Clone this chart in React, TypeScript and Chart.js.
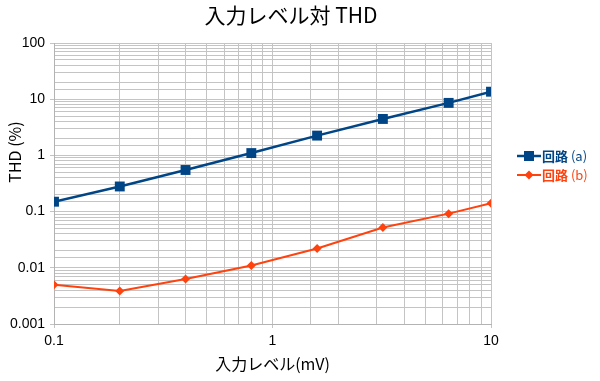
import React, { useEffect, useRef } from "react";
import { Chart, registerables } from "chart.js";

Chart.register(...registerables);

const inputLevels = [0.1, 0.2, 0.4, 0.8, 1.6, 3.2, 6.4, 10];
const circuitA = [0.15, 0.28, 0.55, 1.1, 2.25, 4.45, 8.6, 13.6];
const circuitB = [0.005, 0.00385, 0.0063, 0.011, 0.022, 0.052, 0.092, 0.141];
const seriesLabels = ["回路 (a)", "回路 (b)"];
const xTickLabels = ["0.1", "1", "10"];
const yTickLabels = ["0.001", "0.01", "0.1", "1", "10", "100"];
const chartTitle = "入力レベル対 THD";
const xTitle = "入力レベル(mV)";
const yTitle = "THD (%)";

const BLUE = "#004586";
const ORANGE = "#ff420e";
const CJK = '"Noto Sans CJK JP", "Liberation Sans", sans-serif';
const LAT = '"Liberation Sans", "Noto Sans CJK JP", sans-serif';

function isPow10(v: number) {
  const l = Math.log10(v);
  return Math.abs(l - Math.round(l)) < 1e-6;
}

function powLabel(v: number, labels: string[]) {
  if (!isPow10(v)) return "";
  const found = labels.find((s) => Math.abs(parseFloat(s) - v) < v * 1e-6);
  return found ?? "";
}

const textPlugin = {
  id: "texts",
  afterDraw(chart: any) {
    const ctx = chart.ctx;
    const ca = chart.chartArea;
    ctx.save();
    ctx.fillStyle = "#000";
    ctx.textAlign = "center";
    ctx.textBaseline = "middle";
    ctx.font = `21px ${CJK}`;
    ctx.fillText(chartTitle, 291, 15);
    ctx.font = `16px ${CJK}`;
    ctx.fillText(xTitle, (ca.left + ca.right) / 2, 364);
    ctx.save();
    ctx.translate(15, 152);
    ctx.rotate(-Math.PI / 2);
    ctx.fillText(yTitle, 0, 0);
    ctx.restore();

    // legend
    const items = [
      { y: 156, color: BLUE, style: "rect" },
      { y: 175, color: ORANGE, style: "rectRot" },
    ];
    items.forEach((it, i) => {
      ctx.strokeStyle = it.color;
      ctx.fillStyle = it.color;
      ctx.lineWidth = i === 0 ? 2.5 : 2;
      ctx.beginPath();
      ctx.moveTo(517, it.y);
      ctx.lineTo(541, it.y);
      ctx.stroke();
      ctx.beginPath();
      if (it.style === "rect") {
        ctx.rect(529 - 5, it.y - 5, 10, 10);
      } else {
        ctx.moveTo(529, it.y - 4.5);
        ctx.lineTo(533.5, it.y);
        ctx.lineTo(529, it.y + 4.5);
        ctx.lineTo(524.5, it.y);
        ctx.closePath();
      }
      ctx.fill();
      const label = seriesLabels[i];
      const parts = label.split(" ");
      ctx.textAlign = "left";
      ctx.font = `bold 13px ${CJK}`;
      ctx.fillText(parts[0], 542, it.y);
      const w = ctx.measureText(parts[0]).width;
      ctx.font = `13px ${CJK}`;
      ctx.fillText(" " + (parts[1] || ""), 542 + w, it.y);
    });
    ctx.restore();
  },
};

export default function App() {
  const ref = useRef<HTMLCanvasElement>(null);
  useEffect(() => {
    if (!ref.current) return;
    const gridColor = "#c4c4c4";
    const tickColor = (c: any) =>
      c.tick && isPow10(Number(c.tick.value)) ? gridColor : "rgba(0,0,0,0)";
    const chart = new Chart(ref.current, {
      type: "line",
      data: {
        datasets: [
          {
            label: seriesLabels[0],
            data: inputLevels.map((x, i) => ({ x, y: circuitA[i] })),
            borderColor: BLUE,
            backgroundColor: BLUE,
            borderWidth: 2.5,
            pointStyle: "rect",
            pointRadius: 7,
            pointBorderWidth: 0,
            tension: 0,
          },
          {
            label: seriesLabels[1],
            data: inputLevels.map((x, i) => ({ x, y: circuitB[i] })),
            borderColor: ORANGE,
            backgroundColor: ORANGE,
            borderWidth: 2,
            pointStyle: "rectRot",
            pointRadius: 4.5,
            pointBorderWidth: 0,
            tension: 0,
          },
        ],
      },
      options: {
        animation: false,
        responsive: false,
        maintainAspectRatio: false,
        layout: { padding: { top: 43, right: 109, left: 0, bottom: 0 } },
        plugins: {
          legend: { display: false },
          title: { display: false },
          tooltip: { enabled: false },
        },
        scales: {
          x: {
            type: "logarithmic",
            min: 0.1,
            max: 10,
            afterFit: (s: any) => {
              s.height = 57;
            },
            grid: { color: gridColor, tickColor, tickLength: 4, lineWidth: 1 },
            border: { color: "#b3b3b3" },
            ticks: {
              autoSkip: false,
              maxRotation: 0,
              padding: 5,
              color: "#000",
              font: { family: LAT, size: 14 },
              callback: (v: any) => powLabel(Number(v), xTickLabels),
            },
          },
          y: {
            type: "logarithmic",
            min: 0.001,
            max: 100,
            afterFit: (s: any) => {
              s.width = 54;
            },
            grid: { color: gridColor, tickColor, tickLength: 4, lineWidth: 1 },
            border: { color: "#b3b3b3" },
            ticks: {
              autoSkip: false,
              padding: 5,
              color: "#000",
              font: { family: LAT, size: 14 },
              callback: (v: any) => powLabel(Number(v), yTickLabels),
            },
          },
        },
      },
      plugins: [textPlugin],
    } as any);
    return () => chart.destroy();
  }, []);
  return (
    <div style={{ position: "fixed", left: 0, top: 0, width: 600, height: 381, background: "#fff" }}>
      <canvas ref={ref} width={600} height={381} style={{ width: 600, height: 381 }} />
    </div>
  );
}
